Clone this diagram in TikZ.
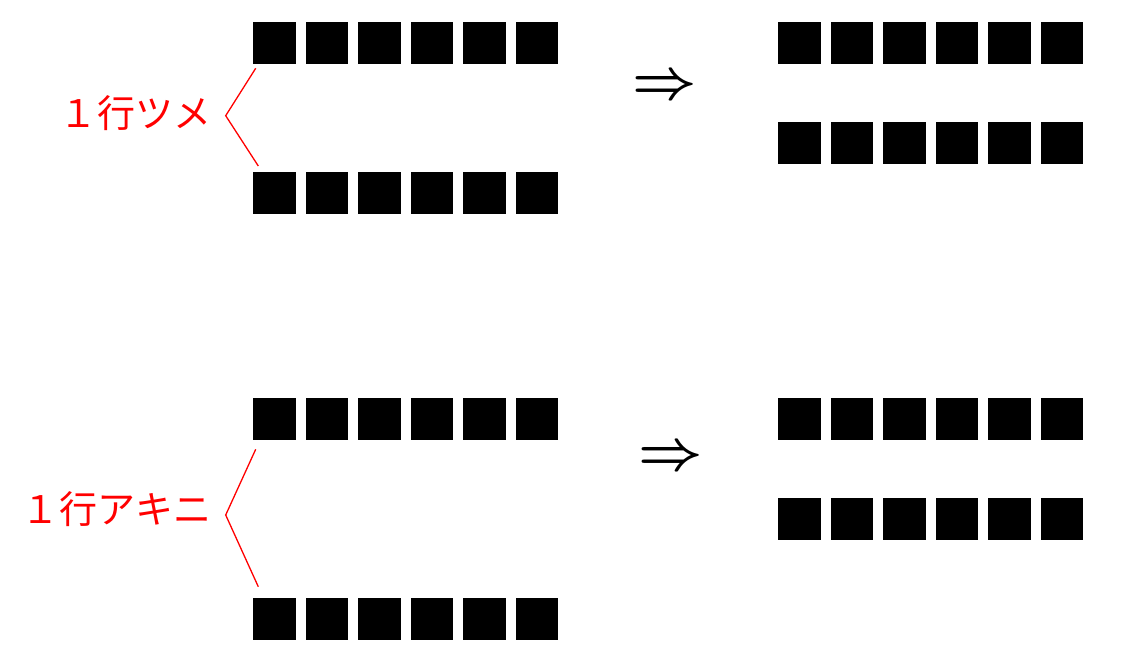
\documentclass[tikz,border=0pt]{standalone}
\usepackage{fontspec}
\newfontfamily\cjk{Noto Sans CJK JP}
\begin{document}
\begin{tikzpicture}[x=1pt,y=-1pt,
  sq/.style={fill=black,minimum size=42.3pt,inner sep=0pt,outer sep=0pt},
  brk/.style={red,line width=1.3pt},
  lbl/.style={text=red,font=\cjk\fontsize{38}{38}\selectfont,anchor=east,inner sep=0pt},
  arr/.style={scale=5.6,inner sep=0pt,font=\boldmath}]
\useasboundingbox (0,0) rectangle (1142,652);
% top example
\foreach \k in {1,...,6} {
  \node[sq] (a\k) at ({274.45+52.5*(\k-1)},42.85) {};
  \node[sq] (b\k) at ({274.45+52.5*(\k-1)},192.85) {};
  \node[sq] (c\k) at ({799.45+52.5*(\k-1)},42.85) {};
  \node[sq] (d\k) at ({799.45+52.5*(\k-1)},142.85) {};
}
% bottom example
\foreach \k in {1,...,6} {
  \node[sq] (e\k) at ({274.45+52.5*(\k-1)},418.85) {};
  \node[sq] (f\k) at ({274.45+52.5*(\k-1)},618.85) {};
  \node[sq] (g\k) at ({799.45+52.5*(\k-1)},418.85) {};
  \node[sq] (h\k) at ({799.45+52.5*(\k-1)},518.85) {};
}
\node[arr] (arrA) at (665,88) {$\Rightarrow$};
\node[arr] (arrB) at (670.3,458.5) {$\Rightarrow$};
% brackets and labels
\coordinate (t1) at (255.7,68.3);
\coordinate (t2) at (225.7,115.7);
\coordinate (t3) at (258.3,166);
\coordinate (u1) at (255.7,449.3);
\coordinate (u2) at (225.7,515);
\coordinate (u3) at (258.3,586.7);
\draw[brk] (t1) -- (t2) -- (t3);
\draw[brk] (u1) -- (u2) -- (u3);
\node[lbl] (labA) at (212,113) {１行ツメ};
\node[lbl] (labB) at (212,509) {１行アキニ};
\end{tikzpicture}
\end{document}
